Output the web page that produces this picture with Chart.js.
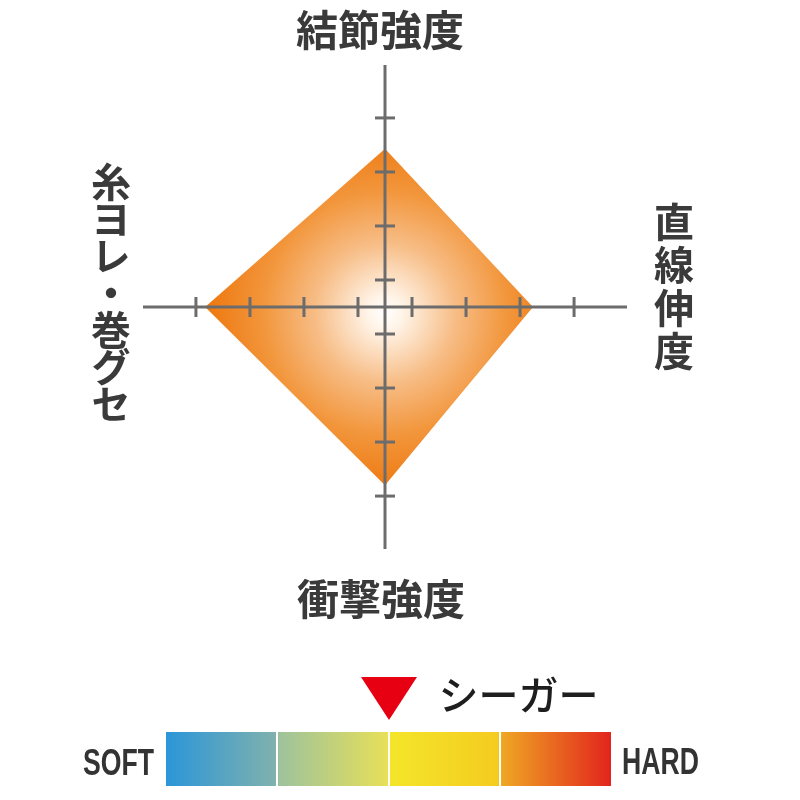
<!DOCTYPE html>
<html lang="ja">
<head>
<meta charset="utf-8">
<title>シーガー 性能チャート</title>
<script src="https://cdn.jsdelivr.net/npm/chart.js@4.4.1/dist/chart.umd.min.js"></script>
<style>
  html, body { margin:0; padding:0; background:#fff; }
  #wrap { position:relative; width:800px; height:800px; overflow:hidden; }
  #wrap canvas { position:absolute; left:0; top:0; }
  .lbl { position:absolute; color:#3a3a3a; font-family:"Noto Sans CJK JP", "Noto Sans", sans-serif; font-weight:700; white-space:nowrap; line-height:1; }
  .vert { writing-mode:vertical-rl; text-orientation:upright; }
  #lblTop { left:296px; top:7px; font-size:42px; }
  #lblBottom { left:297px; top:576px; font-size:42px; }
  #lblRight { left:654px; top:202px; font-size:40px; letter-spacing:3px; }
  #lblLeft { left:91px; top:162px; font-size:40px; letter-spacing:-3px; }
  #bar { position:absolute; left:166px; top:732px; width:445px; height:54px;
    background:linear-gradient(90deg, #2b96d8 0%, #7fb1ae 24.5%, #9ec39b 25.5%, #e6df5a 49.5%, #f4e52a 50.5%, #f4cc20 74.5%, #efa624 75.5%, #e2241c 100%); }
  .div { position:absolute; top:0; width:2px; height:100%; background:#fff; }
  .end { position:absolute; font-family:"Liberation Sans", sans-serif; font-weight:700; font-size:37px; color:#333; transform:scaleX(0.72); transform-origin:left top; line-height:1; }
  #marker { position:absolute; width:0; height:0; border-left:28px solid transparent; border-right:28px solid transparent; border-top:43px solid #e60012; }
  #product { position:absolute; top:673px; font-family:"Noto Sans CJK JP", sans-serif; font-weight:500; font-size:40px; color:#1e1e1e; line-height:1; }
</style>
</head>
<body>
<div id="wrap">
  <canvas id="radar"></canvas>
  <div id="lblTop" class="lbl"></div>
  <div id="lblRight" class="lbl vert"></div>
  <div id="lblBottom" class="lbl"></div>
  <div id="lblLeft" class="lbl vert"></div>
  <div id="bar"></div>
  <div id="marker"></div>
  <div id="product"></div>
  <div id="soft" class="end"></div>
  <div id="hard" class="end"></div>
</div>
<script>
// axes clockwise from the top
const axisLabels = ['結節強度', '直線伸度', '衝撃強度', '糸ヨレ・巻グセ'];
const seagarValues = [2.93, 2.74, 3.30, 3.33];
const tickValues = [0.5, 1.5, 2.5, 3.5];
const scaleMax = 4.48;

// hardness scale
const hardnessEnds = ['SOFT', 'HARD'];
const hardnessSegments = 4;
const productName = 'シーガー';
const productHardness = 0.5; // 0 = soft, 1 = hard

(function(){
  const AXIS_GREY = '#6c6c6c';

  // axis titles
  document.getElementById('lblTop').textContent = axisLabels[0];
  document.getElementById('lblRight').textContent = axisLabels[1];
  document.getElementById('lblBottom').textContent = axisLabels[2];
  document.getElementById('lblLeft').textContent = axisLabels[3];

  // tick marks across each axis line, drawn after the fill
  const axisTicks = {
    id: 'axisTicks',
    afterDraw(chart){
      const s = chart.scales.r, c = chart.ctx, half = 10;
      c.save();
      c.strokeStyle = AXIS_GREY; c.lineWidth = 3;
      axisLabels.forEach((_, i) => {
        const a = s.getIndexAngle(i);          // 0 = up
        const px = Math.cos(a), py = Math.sin(a); // perpendicular to the axis
        tickValues.forEach(v => {
          const p = s.getPointPositionForValue(i, v);
          c.beginPath();
          c.moveTo(p.x - px*half, p.y - py*half);
          c.lineTo(p.x + px*half, p.y + py*half);
          c.stroke();
        });
      });
      c.restore();
    }
  };

  function fillGradient(ctx){
    const chart = ctx.chart, s = chart.scales.r;
    if(!s || !chart.chartArea) return 'rgba(239,127,26,0.8)';
    const g = chart.ctx.createRadialGradient(s.xCenter, s.yCenter + 6, 0, s.xCenter, s.yCenter + 6, s.drawingArea * 0.72);
    g.addColorStop(0, '#ffffff');
    g.addColorStop(0.1, '#fff4e8');
    g.addColorStop(0.4, '#f7bd86');
    g.addColorStop(0.7, '#f2963c');
    g.addColorStop(1, '#ee7a12');
    return g;
  }

  const ctx = document.getElementById('radar').getContext('2d');
  new Chart(ctx, {
    type: 'radar',
    data: {
      labels: axisLabels,
      datasets: [{ label: productName, data: seagarValues, fill: true, backgroundColor: fillGradient,
        borderWidth: 0, pointRadius: 0, pointHoverRadius: 0, tension: 0 }]
    },
    options: {
      responsive: true, maintainAspectRatio: false, animation: false,
      layout: { padding: { left: 143, right: 173, top: 65, bottom: 251 } },
      plugins: { legend: { display: false }, tooltip: { enabled: false } },
      scales: {
        r: {
          min: 0, max: scaleMax, startAngle: 0,
          grid: { display: false, z: 1 },
          angleLines: { display: true, color: AXIS_GREY, lineWidth: 3 },
          ticks: { display: false },
          pointLabels: { display: false }
        }
      }
    },
    plugins: [axisTicks]
  });

  // hardness bar below the chart
  const bar = document.getElementById('bar');
  for(let i=1;i<hardnessSegments;i++){
    const d = document.createElement('div'); d.className = 'div';
    d.style.left = (i/hardnessSegments*100) + '%';
    d.style.marginLeft = '-1px';
    bar.appendChild(d);
  }
  const barLeft = bar.offsetLeft, barW = bar.offsetWidth;
  const mx = barLeft + productHardness * barW;
  const marker = document.getElementById('marker');
  marker.style.left = (mx - 28) + 'px'; marker.style.top = '677px';
  const prod = document.getElementById('product');
  prod.textContent = productName; prod.style.left = (mx + 50) + 'px';
  const soft = document.getElementById('soft'), hard = document.getElementById('hard');
  soft.textContent = hardnessEnds[0]; soft.style.left = '83px'; soft.style.top = '744px';
  hard.textContent = hardnessEnds[1]; hard.style.left = '622px'; hard.style.top = '743px';
})();
</script>
</body>
</html>
